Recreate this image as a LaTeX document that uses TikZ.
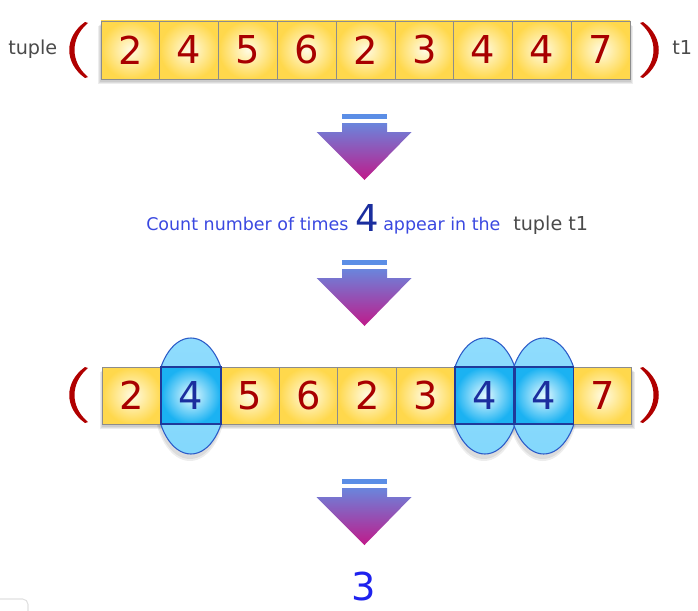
\documentclass[tikz,border=0pt]{standalone}
\usepackage{fontspec}
\setmainfont{DejaVu Sans}
\definecolor{yellowin}{HTML}{FFFBE3}
\definecolor{yellowout}{HTML}{FFD84C}
\definecolor{cellborder}{HTML}{8C8C8C}
\definecolor{digitred}{HTML}{A80000}
\definecolor{parred}{HTML}{B00000}
\definecolor{bluein}{HTML}{E6FAFF}
\definecolor{blueout}{HTML}{1BB2F2}
\definecolor{blueborder}{HTML}{1F3A9A}
\definecolor{elltop}{HTML}{8FDCFD}
\definecolor{ellbot}{HTML}{55C6F6}
\definecolor{ellborder}{HTML}{2B5BC8}
\definecolor{navy}{HTML}{1B2E9E}
\definecolor{txtblue}{HTML}{3A48E0}
\definecolor{txtgray}{HTML}{4A4A4A}
\definecolor{barblue}{HTML}{5B8EE6}
\definecolor{arrtop}{HTML}{6A85DC}
\definecolor{arrbot}{HTML}{C01A8A}
\definecolor{threeblue}{HTML}{1E22EE}
\tikzset{
  ycell/.style={draw=cellborder, line width=0.7pt, minimum width=44.1pt, minimum height=43.5pt,
    inner sep=0pt, shading=radial, inner color=yellowin, outer color=yellowout,
    text=digitred, font=\fontsize{28.8}{30}\selectfont},
  bcell/.style={ycell, draw=blueborder, line width=0.9pt, inner color=bluein, outer color=blueout, text=navy},
  lbl/.style={inner sep=0pt, anchor=base west, text=txtgray, font=\fontsize{14.4}{16}\selectfont},
  downarr/.pic={
    \fill[barblue] (-22.5,0) rectangle (22.5,5);
    \shade[top color=arrtop, bottom color=arrbot] (-22.5,9) -- (22.5,9) -- (22.5,18) -- (47,18) -- (0,66) -- (-48,18) -- (-22.5,18) -- cycle;
  },
  lparen/.pic={
    \fill[parred] (0,-28) .. controls (-21,-13) and (-21,13) .. (0,28) -- (3,27) .. controls (-15,12) and (-15,-12) .. (3,-27) -- cycle;
  },
  rparen/.pic={
    \fill[parred,xscale=-1] (0,-28) .. controls (-21,-13) and (-21,13) .. (0,28) -- (3,27) .. controls (-15,12) and (-15,-12) .. (3,-27) -- cycle;
  },
  softshadow/.style={black, opacity=0.07}
}
\begin{document}
\begin{tikzpicture}[x=0.75pt,y=-0.75pt]
\useasboundingbox (0,0) rectangle (698,610);
% ---- top row ----
\foreach \k in {0,1,2} {
  \fill[softshadow] (100-\k,24+\k) rectangle (631+\k,82+\k);
}
\foreach \v [count=\i] in {2,4,5,6,2,3,4,4,7}
  \node[ycell] (t\i) at ({101+58.8*(\i-0.5)},50) {\v};
\pic at (85,50) {lparen};
\pic at (643,50) {rparen};
\node[lbl] (tuplelbl) at (8,55) {tuple};
\node[lbl] (t1lbl) at (672,55) {t1};
% ---- arrow 1 ----
\pic at (364.5,114) {downarr};
% ---- middle text ----
\node[inner sep=0pt, anchor=base west, text=txtblue, font=\fontsize{13.1}{15}\selectfont] (c1) at (146,230) {Count number of times};
\node[inner sep=0pt, anchor=base west, text=navy, font=\fontsize{27.8}{30}\selectfont] (c4) at (355,231) {4};
\node[inner sep=0pt, anchor=base west, text=txtblue, font=\fontsize{13.1}{15}\selectfont] (c2) at (383,230) {appear in the};
\node[lbl] (c3) at (513,230) {tuple t1};
% ---- arrow 2 ----
\pic at (364.5,260) {downarr};
% ---- bottom row ----
\foreach \cx in {190.9,484.9,543.7} {
  \fill[softshadow] (\cx-1,400) ellipse [x radius=35, y radius=59];
  \fill[softshadow] (\cx-1,401) ellipse [x radius=36, y radius=60];
}
\foreach \k in {0,1,2} {
  \fill[softshadow] (101.7-\k,370+\k) rectangle (633+\k,427+\k);
}
\foreach \cx in {190.9,484.9,543.7} {
  \shade[top color=elltop, middle color=ellbot, bottom color=elltop!80!ellbot, draw=ellborder, line width=0.8pt] (\cx,396) ellipse [x radius=34.5, y radius=58];
}
\foreach \v/\s [count=\i] in {2/ycell,4/bcell,5/ycell,6/ycell,2/ycell,3/ycell,4/bcell,4/bcell,7/ycell}
  \node[\s, minimum height=42.75pt] (b\i) at ({102.7+58.8*(\i-0.5)},395.5) {\v};
\foreach \i in {2,7,8} \draw[blueborder, line width=0.9pt] (b\i.north west) rectangle (b\i.south east);
\pic at (85,395) {lparen};
\pic at (643,395) {rparen};
% ---- arrow 3 ----
\pic at (364.5,479) {downarr};
% ---- result ----
\node[inner sep=0pt, anchor=base, text=threeblue, font=\fontsize{28.8}{30}\selectfont] (res) at (364,600) {3};
% ---- faint corner artifact ----
\draw[black!12, line width=0.8pt, rounded corners=4pt] (-5,615) -- (-5,599) -- (28,599) -- (28,615);
\end{tikzpicture}
\end{document}
